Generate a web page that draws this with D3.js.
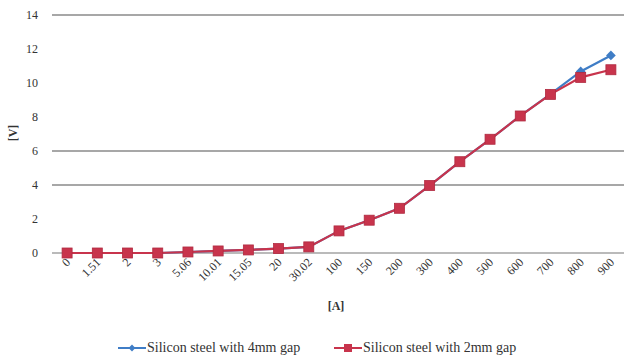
<!DOCTYPE html>
<html>
<head>
<meta charset="utf-8">
<script src="https://cdn.jsdelivr.net/npm/d3@7/dist/d3.min.js"></script>
<style>
  html, body { margin: 0; padding: 0; background: #fff; }
  svg { display: block; }
  svg text { font-family: 'Liberation Serif', 'Times New Roman', serif; }
</style>
</head>
<body>
<svg id="chart" width="624" height="356"></svg>
<script>
// Current steps [A] and measured voltage [V]
const categories = ["0", "1.51", "2", "3", "5.06", "10.01", "15.05", "20", "30.02",
  "100", "150", "200", "300", "400", "500", "600", "700", "800", "900"];
const gap4mm = [0, 0, 0, 0, 0.06, 0.12, 0.18, 0.26, 0.36,
  1.3, 1.93, 2.63, 3.97, 5.37, 6.69, 8.06, 9.35, 10.68, 11.62];
const gap2mm = [0, 0, 0, 0, 0.06, 0.12, 0.18, 0.26, 0.36,
  1.3, 1.93, 2.63, 3.97, 5.37, 6.69, 8.06, 9.33, 10.33, 10.78];
const yTicks = [0, 2, 4, 6, 8, 10, 12, 14];
const gridValues = [4, 6, 14];
const seriesNames = ["Silicon steel with 4mm gap", "Silicon steel with 2mm gap"];

const blue = "#3f7dc6";
const red = "#c8344c";
const textStyle = size => `font-family:'Liberation Serif',serif;font-size:${size}px`;

const svg = d3.select("#chart");
const plotLeft = 52, plotRight = 626, plotTop = 15, plotBottom = 253;

const x = d3.scaleBand().domain(categories).range([plotLeft, plotRight]);
const y = d3.scaleLinear().domain([0, 14]).range([plotBottom, plotTop]);
const cx = d => x(d) + x.bandwidth() / 2;

// gridlines
svg.append("g").selectAll("line").data(gridValues).join("line")
  .attr("x1", plotLeft).attr("x2", plotRight)
  .attr("y1", d => y(d)).attr("y2", d => y(d))
  .attr("stroke", "#8a8a8a").attr("stroke-width", 1.4);

// y axis labels
const yAxis = d3.axisLeft(y).tickValues(yTicks).tickSize(0).tickPadding(14);
svg.append("g").attr("transform", `translate(${plotLeft},0)`).call(yAxis)
  .call(g => g.select(".domain").remove())
  .selectAll("text").attr("style", textStyle(12)).attr("fill", "#333");

// category axis line
svg.append("line").attr("x1", plotLeft).attr("x2", plotRight)
  .attr("y1", y(0)).attr("y2", y(0))
  .attr("stroke", "#777").attr("stroke-width", 1.2);

// rotated category labels
svg.append("g").selectAll("text").data(categories).join("text")
  .attr("transform", d => `translate(${cx(d) + 4},${y(0) + 10}) rotate(-45)`)
  .attr("text-anchor", "end")
  .attr("style", textStyle(12)).attr("fill", "#333")
  .text(d => d);

// axis titles
svg.append("text").attr("transform", `translate(17,133) rotate(-90)`)
  .attr("text-anchor", "middle").attr("style", textStyle(12)).attr("font-weight", "bold")
  .attr("fill", "#333").text("[V]");
svg.append("text").attr("x", 336).attr("y", 310)
  .attr("text-anchor", "middle").attr("style", textStyle(12)).attr("font-weight", "bold")
  .attr("fill", "#333").text("[A]");

const line = d3.line().x((d, i) => cx(categories[i])).y(d => y(d));

// 4 mm gap series (diamonds)
svg.append("path").datum(gap4mm).attr("d", line)
  .attr("fill", "none").attr("stroke", blue).attr("stroke-width", 2.2);
svg.append("g").selectAll("path").data(gap4mm).join("path")
  .attr("d", d3.symbol(d3.symbolDiamond2, 60))
  .attr("transform", (d, i) => `translate(${cx(categories[i])},${y(d)})`)
  .attr("fill", blue);

// 2 mm gap series (squares)
svg.append("path").datum(gap2mm).attr("d", line)
  .attr("fill", "none").attr("stroke", red).attr("stroke-width", 2.2);
svg.append("g").selectAll("rect").data(gap2mm).join("rect")
  .attr("x", (d, i) => cx(categories[i]) - 5).attr("y", d => y(d) - 5)
  .attr("width", 10).attr("height", 10)
  .attr("fill", red).attr("stroke", "#b02a40").attr("stroke-width", 0.8);

// legend
const legend = svg.append("g");
const items = [
  { name: seriesNames[0], color: blue, x: 118, kind: "diamond" },
  { name: seriesNames[1], color: red, x: 334, kind: "square" }
];
items.forEach(it => {
  const g = legend.append("g").attr("transform", `translate(${it.x},348)`);
  g.append("line").attr("x1", 0).attr("x2", 28).attr("y1", 0).attr("y2", 0)
    .attr("stroke", it.color).attr("stroke-width", 2);
  if (it.kind === "diamond") {
    g.append("path").attr("d", d3.symbol(d3.symbolDiamond2, 30))
      .attr("transform", "translate(14,0)").attr("fill", it.color);
  } else {
    g.append("rect").attr("x", 10).attr("y", -4).attr("width", 8).attr("height", 8)
      .attr("fill", it.color);
  }
  g.append("text").attr("x", 29).attr("y", 4).attr("style", textStyle(14))
    .attr("fill", "#333").text(it.name);
});
</script>
</body>
</html>
